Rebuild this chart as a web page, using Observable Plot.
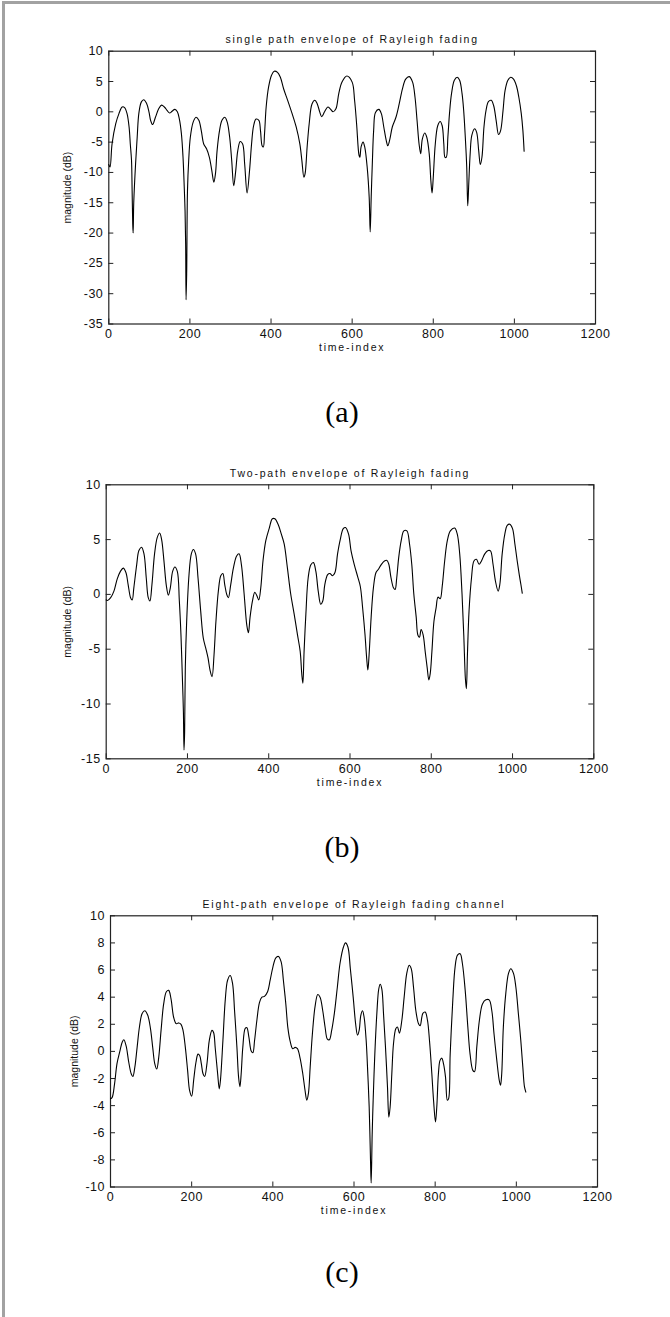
<!DOCTYPE html>
<html><head><meta charset="utf-8">
<script src="https://cdn.jsdelivr.net/npm/d3@7"></script>
<script src="https://cdn.jsdelivr.net/npm/@observablehq/plot@0.6"></script>
<style>
body{margin:0;background:#fff;}
#root{position:relative;width:670px;height:1317px;overflow:hidden;background:#fff;}
.frameborder{position:absolute;left:2px;top:1px;width:668px;height:1316px;border-top:3px solid #a2a2a2;border-left:3px solid #a2a2a2;box-sizing:border-box;pointer-events:none;}
.panel{position:absolute;left:0;}
.cap{position:absolute;width:100px;text-align:center;font-family:"Liberation Serif","Times New Roman",serif;font-size:30px;line-height:30px;color:#000;}
</style></head><body><div id="root"></div><script>
// ---------- data ----------
const xTicks = [0, 200, 400, 600, 800, 1000, 1200];
const yTicksA = [10, 5, 0, -5, -10, -15, -20, -25, -30, -35];
const yTicksB = [10, 5, 0, -5, -10, -15];
const yTicksC = [10, 8, 6, 4, 2, 0, -2, -4, -6, -8, -10];
const titles = ["single path envelope of Rayleigh fading", "Two-path envelope of Rayleigh fading", "Eight-path envelope of Rayleigh fading channel"];
const captions = ["(a)", "(b)", "(c)"];
const xLabel = "time-index";
const yLabel = "magnitude (dB)";

const timeA = [0,3,8,17,25,33,39,45,50,53,56,57.5,59,60,61.5,66,70,74,80,86,93,99,103,108,115,123,130,137,144,150,156,163,169,174,179,183,186,188,189.5,190.5,192,194,197,201,208,215,222,228,234,241,248,254,259,263,267,273,279,286,292,298,303,308,313,318,324,330,335,341,347,352,357,363,370,374,378,381,384,388,394,401,408,416,423,431,441,452,462,471,476,481,484,489,494,501,508,514,520,525,532,540,546,553,560,567,575,587,600,606,611,617,619,622,627,631,637,642,644.5,647,650,653,657.5,666,672,678,684,688,693,699,708,716,724,732,741,749,755,760,765,769,773,779,784,790,794,797,800,805,811,817,822,826,829,832,836,840,845,852,859,865,871,875,879,882.5,885,887.5,891,895,902,907,912,916,920,925,930,936,943,949,955,961,966,972,977,984,991,998,1005,1011,1017,1021,1024];
const magA = [-8.7,-9.1,-5.3,-2.0,-0.3,0.8,0.7,-0.3,-2.5,-5.3,-8.0,-13,-18.5,-20,-15,-8.6,-4.2,-0.3,1.6,2.0,1.4,0.0,-1.4,-2.1,-0.9,0.5,1.1,0.8,0.2,-0.2,0.1,0.4,0.0,-1.2,-3.6,-7.5,-12.4,-16.3,-21.8,-31,-26.7,-13,-8,-4.2,-1.7,-0.9,-1.4,-3.1,-5.3,-6.1,-7.5,-9.7,-11.6,-10.2,-6.4,-3.1,-1.4,-0.9,-1.7,-4.2,-8.0,-12.2,-9.7,-6.4,-4.9,-5.3,-8.6,-13.4,-9.7,-5.3,-2.3,-1.2,-1.4,-3.1,-5.6,-5.8,-3.6,0.8,4.1,6.0,6.7,6.5,5.7,3.8,1.9,-0.3,-2.5,-5.3,-8.0,-10.8,-10.2,-5.8,-2.0,1.3,1.9,1.3,0.0,-0.8,0.0,0.8,0.5,0.0,0.5,3.0,4.9,5.9,4.9,1.9,-2.0,-7.2,-7.5,-5.8,-5.0,-5.8,-9.1,-14.1,-19.8,-14,-8,-3.1,-0.1,0.4,-0.3,-2.5,-4.7,-5.6,-4.5,-2.5,-0.9,1.3,3.8,5.4,5.8,4.9,2.4,-1.4,-5.3,-6.9,-4.5,-3.5,-4.2,-6.9,-11.3,-13.4,-10.8,-5.3,-2.3,-1.6,-2.3,-5.3,-7.5,-7.5,-4.2,-0.3,3.0,5.2,5.7,5.2,3.0,0.2,-4.2,-9.1,-15.5,-11.9,-6.9,-3.9,-2.8,-3.4,-6.4,-8.7,-7.5,-2.5,0.2,1.7,1.9,1.0,-1.4,-3.75,-3.1,0.2,3.5,5.2,5.7,5.4,4.3,2.4,-0.3,-3.1,-6.5];

const timeB = [0,3,11,19,27,35,42,48.5,54,60,64,68,75,80.5,87,93,98.6,103.5,107.6,112.6,119,125.7,131.5,136.4,142,148,153,157.8,163.5,169,175,180,184,187.3,190,191.5,193,194.7,198,203.8,209.5,214.5,220,226,232.5,239,245,250.6,255.5,260.5,265.4,270,276,282,287,291.7,296.6,300.7,306.5,313,321,327,332.8,339.4,346,350,354,360,365.7,370.6,375.5,380.4,386,392.8,401,409,415,423,431,438,446,454,462.6,470.8,477.4,481.5,484,487,491.4,497,503.7,510,516,521.8,528,533,538,545,550.5,557,563,569.4,576,583.4,589,596.5,602.5,610.7,619,625.5,631,637,641,644,647,652,657.6,664,670,676.5,684.8,691,695.5,701,707,711,715,720,726,732.5,740,746.5,752,757,763,767,771,775,780,785,790,794,797.5,801.6,806.6,812,816.5,822,827,833,839.5,847,857.6,864,870,875.7,880,884,886.4,889,893,899,905,911,917.7,923.5,931.7,940,945.7,952,958,964.6,968.7,974.5,981,987,993.4,1000,1005.8,1011.5,1016.5,1020.6,1024];
const magB = [-0.5,-0.56,-0.3,0.3,1.4,2.1,2.4,2.0,0.9,-0.3,-0.5,0.6,2.7,4.0,4.3,3.7,1.5,-0.3,-0.6,0.9,3.7,5.2,5.6,5.0,3.1,0.8,-0.07,0.6,2.1,2.5,2.1,-0.6,-3.7,-7.4,-10.7,-14.2,-12.6,-6.7,-2.5,1.8,3.7,4.1,3.7,1.5,-1.5,-4.0,-4.9,-5.8,-6.9,-7.5,-5.5,-2.5,0.3,1.7,1.9,0.9,0,-0.3,0.9,2.4,3.5,3.7,2.7,0.06,-2.8,-3.5,-2.1,-0.6,0.2,-0.1,-0.5,0.6,3.1,4.9,6.0,6.9,6.9,6.4,5.5,4.6,2.4,0.06,-1.8,-3.7,-5.2,-7.35,-8.1,-5.2,-1.8,1.5,2.7,2.9,2.1,0.3,-0.9,-0.6,0.9,1.8,1.9,1.7,2.0,3.7,5.0,6.0,6.1,5.5,4.0,2.7,1.6,0.7,-1.2,-3.7,-5.8,-6.9,-5.5,-2.1,0.6,2.0,2.3,2.7,3.05,3.1,2.75,1.5,0.6,0.45,1.5,3.4,4.9,5.8,5.8,4.6,2.75,0.06,-2.1,-3.7,-3.9,-3.2,-3.7,-5.2,-6.7,-7.8,-7.2,-5.2,-2.45,-1.2,-0.25,-0.4,0.76,3.05,4.9,5.8,6.05,5.5,3.7,0.06,-3.7,-7.7,-8.6,-5.5,-1.5,1.5,3.05,3.2,2.75,3.05,3.7,4.0,3.97,2.75,1.2,0.3,0.9,3.7,5.5,6.3,6.4,6.0,4.6,3.05,1.8,0.9,0.1];

const timeC = [0,4,10,16,23,29,33,38.5,45,51,55,60,65.6,71.3,78,84.4,91.8,98.4,104,109,114,119,124.6,131,137.7,143.4,149,155.7,162,168,173.8,178.7,184.4,190,195,200,205,210.6,215.6,219.7,223.8,228,232,237.7,243.4,250,254,258,264,268,271,277,282.8,288.5,295,300.8,305.7,311.5,315.6,318.9,322,326,332,336,341,346.7,350.8,355,360.7,367,373,379.5,387,393.4,400,407.4,414,420.5,426,432,437,442.6,449,455,460.6,467,473.8,479.5,483.6,487.7,492,497.5,504,510.7,516.4,523,528.7,534.4,539.3,545,551.6,559,565.6,574,579,585,591,598,604,608.6,612.7,616.8,621,625,630,634,637.4,640.7,642.3,644.8,647.2,651.3,656.3,661,664.5,668.6,672.7,677.6,682.5,685.8,689,693.2,697.3,703,707,712,717.9,723.6,730,736,741,746.6,752.4,759,763,769.6,775.4,781,786,791.8,796,800.8,804,808,812,816.4,820.5,825.5,830,833,837,843.5,849,855,861.6,867,874,880.5,886,892.8,897,902.7,909,916.6,925,933,939.6,945,952,957.7,961,964,968,974,980.7,986.4,993,998.8,1005,1011,1016,1020,1023.4];
const magC = [-3.5,-3.4,-2.4,-0.9,0.0,0.7,0.86,0.4,-0.8,-1.65,-1.85,-1.16,0.3,1.8,2.8,3.0,2.66,1.7,0.3,-0.9,-1.3,-0.4,1.55,3.5,4.4,4.5,3.9,2.5,2.04,2.1,2.0,1.55,0.3,-1.4,-2.9,-3.3,-2.1,-0.8,-0.2,-0.3,-0.9,-1.65,-1.85,-0.9,0.8,1.55,1.4,0.27,-1.65,-2.76,-2.1,0.8,3.8,5.25,5.6,5.0,3.0,0.3,-1.9,-2.6,-1.65,0.3,1.7,1.75,1.06,0.03,-0.1,0.8,2.3,3.6,4.0,4.06,4.4,5.25,6.2,6.9,7.0,6.6,5.25,3.5,1.75,0.76,0.2,0.3,0.2,-0.47,-1.65,-2.9,-3.6,-3.1,-1.16,1.3,3.3,4.2,4.0,3.0,1.8,0.9,0.86,1.55,2.8,4.75,6.5,7.7,8.0,7.7,6.1,4.0,2.04,1.2,1.55,2.66,3.0,2.5,0.8,-1.65,-4.1,-8.05,-9.7,-6.1,-3.6,-0.2,2.8,4.6,4.95,4.6,2.8,0.3,-2.6,-4.85,-4.1,-1.65,0.56,1.67,1.8,1.35,2.3,4.0,5.75,6.35,6.1,4.75,3.0,2.04,1.9,2.8,2.9,2.3,0.8,-1.65,-3.6,-5.2,-4.1,-1.65,-0.66,-0.5,-0.9,-1.9,-3.6,-3.5,-0.2,3.8,6.2,7.1,7.2,6.5,4.5,1.8,-0.2,-1.4,-1.5,0.37,2.3,3.5,3.8,3.8,3.0,1.3,-0.7,-2.1,-2.5,-1.65,1.8,4.26,5.75,6.1,5.75,4.75,2.8,0.8,-1.16,-2.6,-3.0];

// ---------- layout (positions only) ----------
const panels = [
  {times: timeA, mags: magA, yTicks: yTicksA, yDomain: [-35, 10], title: titles[0], caption: captions[0],
   top: 0, height: 370, mTop: 50.7, mBottom: 46.5, mLeft: 108.3, mRight: 75, ylDx: -41.6, capBase: 422},
  {times: timeB, mags: magB, yTicks: yTicksB, yDomain: [-15, 10], title: titles[1], caption: captions[1],
   top: 430, height: 360, mTop: 54.3, mBottom: 31.7, mLeft: 105.7, mRight: 76.7, ylDx: -39, capBase: 857},
  {times: timeC, mags: magC, yTicks: yTicksC, yDomain: [-10, 10], title: titles[2], caption: captions[2],
   top: 860, height: 360, mTop: 55.3, mBottom: 33.5, mLeft: 110, mRight: 73, ylDx: -35.7, capBase: 1282}
];

const root = document.getElementById("root");
const ink = "#222";

for (const p of panels) {
  const W = 670;
  const innerH = p.height - p.mTop - p.mBottom;
  const innerW = W - p.mLeft - p.mRight;
  const data = p.times.map((t, i) => ({t, v: p.mags[i]}));
  const svg = Plot.plot({
    width: W, height: p.height,
    marginTop: p.mTop, marginBottom: p.mBottom, marginLeft: p.mLeft, marginRight: p.mRight,
    x: {domain: [0, 1200], label: null},
    y: {domain: p.yDomain, label: null},
    style: {fontFamily: "'Liberation Sans', Arial, sans-serif", fontSize: "12.5px", background: "transparent", color: ink, overflow: "visible"},
    marks: [
      Plot.ruleX(xTicks, {x: d => d, insetTop: innerH - 5, stroke: ink, strokeWidth: 1}),
      Plot.ruleX(xTicks, {x: d => d, insetBottom: innerH - 5, stroke: ink, strokeWidth: 1}),
      Plot.ruleY(p.yTicks, {y: d => d, insetRight: innerW - 5, stroke: ink, strokeWidth: 1}),
      Plot.ruleY(p.yTicks, {y: d => d, insetLeft: innerW - 5, stroke: ink, strokeWidth: 1}),
      Plot.frame({stroke: ink, strokeWidth: 1.2}),
      Plot.axisX(xTicks, {tickSize: 0, tickPadding: 5, tickFormat: d => String(d), label: null, fill: "#111"}),
      Plot.axisY(p.yTicks, {tickSize: 0, tickPadding: 5.5, tickFormat: d => String(d), label: null, fill: "#111"}),
      Plot.line(data, {x: "t", y: "v", curve: "catmull-rom", stroke: "#000", strokeWidth: 1.1}),
      Plot.text([p.title], {text: d => d, frameAnchor: "top", dy: -11.5, lineAnchor: "middle", fontSize: 10.5, fill: "#111"}),
      Plot.text([xLabel], {text: d => d, frameAnchor: "bottom", dy: 23.5, lineAnchor: "middle", fontSize: 10.5, fill: "#111"}),
      Plot.text([yLabel], {text: d => d, frameAnchor: "left", dx: p.ylDx, rotate: -90, textAnchor: "middle", lineAnchor: "middle", fontSize: 10.5, fill: "#111"})
    ]
  });
  const s = d3.select(svg);
  s.selectAll("g[aria-label='x-axis tick label'] text, g[aria-label='y-axis tick label'] text").attr("letter-spacing", "0.5");
  s.selectAll("text").filter(function () { return this.textContent === p.title || this.textContent === xLabel; }).attr("letter-spacing", "1.8");
  svg.classList.add("panel");
  svg.style.top = p.top + "px";
  svg.style.position = "absolute";
  root.appendChild(svg);

  const cap = document.createElement("div");
  cap.className = "cap";
  cap.textContent = p.caption;
  cap.style.left = (342 - 50) + "px";
  cap.style.top = (p.capBase - 25.1) + "px";
  root.appendChild(cap);
}
const fb = document.createElement("div");
fb.className = "frameborder";
root.appendChild(fb);
</script></body></html>
